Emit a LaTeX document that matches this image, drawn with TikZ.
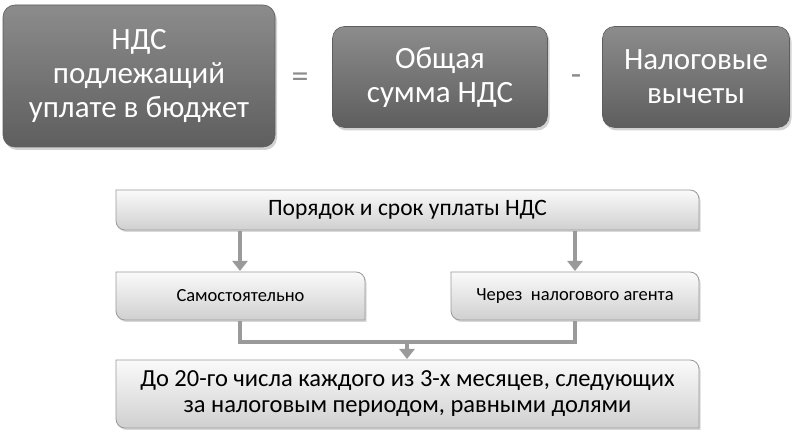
\documentclass[tikz,border=0pt]{standalone}
\usepackage{fontspec}
\setmainfont{Carlito}
\usetikzlibrary{shadows,arrows.meta}
\definecolor{dk1}{HTML}{8C8C8C}
\definecolor{dk2}{HTML}{5E5E5E}
\definecolor{lt1}{HTML}{FAFAFA}
\definecolor{lt2}{HTML}{D0D0D0}
\definecolor{edge}{HTML}{9A9A9A}
\tikzset{
 big/.style={rounded corners=12pt, top color=dk1, bottom color=dk2, draw=dk2, line width=0.6pt,
   drop shadow={shadow xshift=2pt,shadow yshift=-3pt,opacity=0.35},
   text=white, font=\fontsize{31}{34}\selectfont, align=center, inner sep=0pt},
 txt/.style={inner sep=0pt, align=center, text=black},
 shp/.style={top color=lt1, bottom color=lt2, draw=edge, line width=0.8pt,
   drop shadow={shadow xshift=1.5pt,shadow yshift=-2pt,opacity=0.3}},
 conn/.style={draw=edge, line width=3.5pt},
 arr/.style={conn, -{Triangle[width=15pt,length=10pt]}},
 op/.style={font=\fontsize{34}{34}\selectfont, text=dk1}
}
\newcommand{\dbox}[5]{% name, x1, y1(top px), x2, y2(bottom px)
 \path[shp] (#2,{436-#3}) -- ({#4-9},{436-#3}) arc(90:0:9) -- (#4,{436-#5}) -- ({#2+9},{436-#5}) arc(270:180:9) -- cycle;
 \coordinate (#1) at ({(#2+#4)/2},{436-(#3+#5)/2});
}
\begin{document}
\begin{tikzpicture}[x=1pt,y=1pt]
\useasboundingbox[fill=white] (0,0) rectangle (796,436);
\node[big, minimum width=272pt, minimum height=142pt] (b1) at (139,{436-76}) {НДС\\подлежащий\\уплате в бюджет};
\node[big, minimum width=215pt, minimum height=101pt] (b2) at (440,{436-77}) {Общая\\сумма НДС};
\node[big, minimum width=187pt, minimum height=101pt] (b3) at (696,{436-77}) {Налоговые\\вычеты};
\node[op] (eq) at (300,{436-80}) {=};
\node[op] (mi) at (576,{436-80}) {-};

\dbox{p}{116}{190}{699}{230}
\node[txt, font=\fontsize{23.5}{26}\selectfont] (pt) at (p) {Порядок и срок уплаты НДС};
\dbox{s}{116}{272}{365}{320}
\node[txt, font=\fontsize{18.5}{20}\selectfont] (st) at (s) {Самостоятельно};
\dbox{c}{451}{272}{699}{320}
\node[txt, font=\fontsize{18.5}{20}\selectfont] (ct) at (c) {Через\ \ налогового агента};
\dbox{d}{116}{360}{699}{428}
\node[txt, font=\fontsize{24.5}{26}\selectfont] (dt) at (d) {До 20-го числа каждого из 3-х месяцев, следующих\\за налоговым периодом, равными долями};

\coordinate (pa) at (240,{436-231});
\coordinate (pb) at (240,{436-271});
\coordinate (pc) at (575,{436-231});
\coordinate (pd) at (575,{436-271});
\draw[arr] (pa) -- (pb);
\draw[arr] (pc) -- (pd);
\coordinate (sa) at (240,{436-321});
\coordinate (ca) at (575,{436-321});
\coordinate (m) at (407,{436-342});
\coordinate (me) at (407,{436-359});
\draw[conn, line join=miter] (sa) |- (m) -| (ca);
\draw[arr] (m) -- (me);
\end{tikzpicture}
\end{document}
